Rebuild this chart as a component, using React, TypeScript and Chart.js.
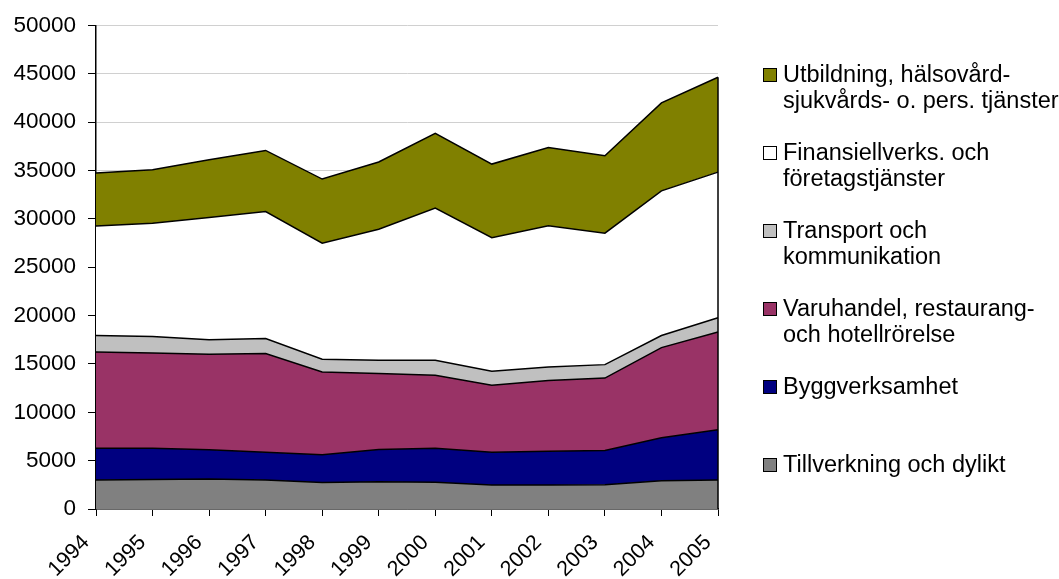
import React, { useEffect, useRef } from "react";
import { Chart, registerables } from "chart.js";

Chart.register(...registerables);

const years = ["1994", "1995", "1996", "1997", "1998", "1999", "2000", "2001", "2002", "2003", "2004", "2005"];

const tillverkning = [3000, 3050, 3100, 3000, 2730, 2830, 2760, 2490, 2490, 2520, 2930, 3000];
const bygg = [3280, 3230, 3020, 2870, 2870, 3320, 3520, 3380, 3480, 3530, 4430, 5190];
const varuhandel = [9960, 9860, 9880, 10200, 8570, 7850, 7540, 6920, 7330, 7490, 9330, 10120];
const transport = [1700, 1700, 1490, 1560, 1310, 1380, 1560, 1450, 1390, 1390, 1250, 1460];
const finans = [11330, 11710, 12650, 13130, 12000, 13550, 15730, 13820, 14610, 13590, 14960, 15070];
const utbildning = [5470, 5530, 5980, 6320, 6640, 6950, 7740, 7610, 8090, 8010, 9100, 9810];

const seriesLabels = [
  ["Tillverkning och dylikt"],
  ["Byggverksamhet"],
  ["Varuhandel, restaurang-", "och hotellrörelse"],
  ["Transport och", "kommunikation"],
  ["Finansiellverks. och", "företagstjänster"],
  ["Utbildning, hälsovård-", "sjukvårds- o. pers. tjänster"],
];
const seriesColors = ["#808080", "#000080", "#993366", "#C0C0C0", "#FFFFFF", "#808000"];
const seriesValues = [tillverkning, bygg, varuhandel, transport, finans, utbildning];

const FONT = "'Liberation Sans', Arial, sans-serif";

const legendPlugin = {
  id: "customLegend",
  afterDraw(chart: any) {
    const ctx = chart.ctx;
    const area = chart.chartArea;
    const x0 = area.right + 45;
    ctx.save();
    ctx.font = `23.5px ${FONT}`;
    ctx.textBaseline = "alphabetic";
    ctx.textAlign = "left";
    const n = chart.data.datasets.length;
    for (let k = 0; k < n; k++) {
      const i = n - 1 - k;
      const ds = chart.data.datasets[i];
      const lines: string[] = seriesLabels[i];
      const base = 82 + k * 78;
      ctx.fillStyle = ds.backgroundColor;
      ctx.fillRect(x0, base - 14, 14, 14);
      ctx.strokeStyle = "#000";
      ctx.lineWidth = 1;
      ctx.strokeRect(x0 + 0.5, base - 13.5, 13, 13);
      ctx.fillStyle = "#000";
      lines.forEach((t, j) => ctx.fillText(t, x0 + 20, base + j * 25.5));
    }
    ctx.restore();
  },
};

const edgePlugin = {
  id: "rightEdge",
  afterDatasetsDraw(chart: any) {
    const xs = chart.scales.x;
    const ys = chart.scales.y;
    const last = years.length - 1;
    let total = 0;
    seriesValues.forEach((s) => (total += s[last]));
    const ctx = chart.ctx;
    ctx.save();
    ctx.strokeStyle = "#000";
    ctx.lineWidth = 1.5;
    ctx.beginPath();
    const x = xs.getPixelForValue(last);
    ctx.moveTo(x, ys.getPixelForValue(total));
    ctx.lineTo(x, ys.getPixelForValue(0));
    ctx.stroke();
    ctx.restore();
  },
};

export default function App() {
  const ref = useRef<HTMLCanvasElement | null>(null);
  useEffect(() => {
    if (!ref.current) return;
    const chart = new Chart(ref.current, {
      type: "line",
      data: {
        labels: years,
        datasets: seriesValues.map((vals, i) => ({
          label: seriesLabels[i].join(" "),
          data: vals,
          backgroundColor: seriesColors[i],
          borderColor: "#000",
          borderWidth: 1.5,
          pointRadius: 0,
          tension: 0,
          fill: i === 0 ? "origin" : "-1",
        })),
      },
      options: {
        animation: false,
        responsive: true,
        maintainAspectRatio: false,
        layout: { padding: { top: 25, right: 341, left: 0, bottom: 0 } },
        plugins: { legend: { display: false }, tooltip: { enabled: false } },
        scales: {
          x: {
            offset: false,
            afterFit: (s: any) => {
              s.height = 70;
            },
            grid: { display: true, drawOnChartArea: false, tickColor: "#000", tickLength: 7 },
            border: { color: "#000", width: 1.5 },
            ticks: {
              color: "#000",
              font: { family: FONT, size: 21.5 },
              minRotation: 45,
              maxRotation: 45,
              autoSkip: false,
              padding: 14,
              labelOffset: -10,
            },
          },
          y: {
            stacked: true,
            min: 0,
            max: 50000,
            afterFit: (s: any) => {
              s.width = 96;
            },
            grid: { color: "#d0d0d0", tickColor: "#000", tickLength: 8, lineWidth: 1 },
            border: { color: "#000", width: 1.5 },
            ticks: {
              stepSize: 5000,
              color: "#000",
              font: { family: FONT, size: 22.5 },
              padding: 12,
              callback: (v: any) => String(v),
            },
          },
        },
      },
      plugins: [legendPlugin, edgePlugin],
    });
    return () => chart.destroy();
  }, []);
  return (
    <div style={{ position: "fixed", left: 0, top: 0, width: 1059, height: 579, background: "#fff" }}>
      <canvas ref={ref} />
    </div>
  );
}
